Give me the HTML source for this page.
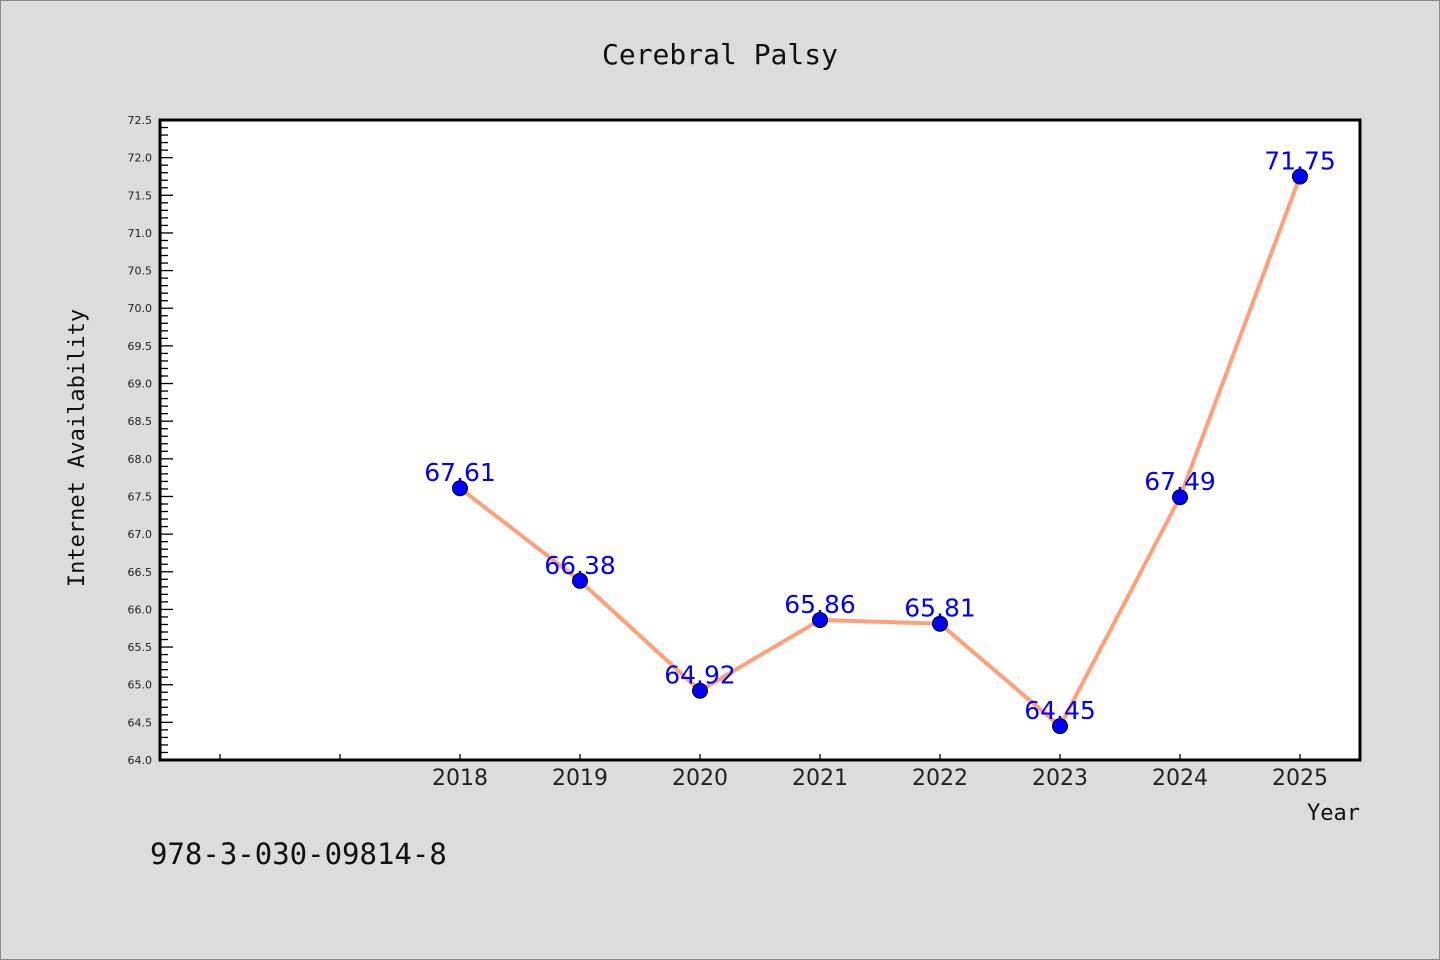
<!DOCTYPE html>
<html><head><meta charset="utf-8"><style>
html,body{margin:0;padding:0;background:#dcdcdc;}
svg{display:block;}
</style></head><body>
<svg id="chart" width="1440" height="960" xmlns="http://www.w3.org/2000/svg">
<rect x="0.5" y="0.5" width="1439" height="959" fill="#dcdcdc" stroke="#888"/>
<text x="720" y="64" text-anchor="middle" font-family="DejaVu Sans Mono, Liberation Mono, monospace" font-size="28" fill="#111">Cerebral Palsy</text>
<rect x="160" y="120" width="1200" height="640" fill="#fff" stroke="#000" stroke-width="3"/>
<g id="yaxis"></g>
<g id="xaxis"></g>
<g id="series"></g>
<text x="0" y="0" transform="translate(84,448) rotate(-90)" text-anchor="middle" font-family="DejaVu Sans Mono, Liberation Mono, monospace" font-size="22" fill="#111">Internet Availability</text>
<text x="1360" y="820" text-anchor="end" font-family="DejaVu Sans Mono, Liberation Mono, monospace" font-size="22" fill="#111">Year</text>
<text x="150" y="864" font-family="DejaVu Sans Mono, Liberation Mono, monospace" font-size="29" fill="#111">978-3-030-09814-8</text>
</svg>
<script>
const years = [2018, 2019, 2020, 2021, 2022, 2023, 2024, 2025];
const values = [67.61, 66.38, 64.92, 65.86, 65.81, 64.45, 67.49, 71.75];
const valueLabels = ["67.61", "66.38", "64.92", "65.86", "65.81", "64.45", "67.49", "71.75"];
const xTicks = [2016, 2017, 2018, 2019, 2020, 2021, 2022, 2023, 2024, 2025];
const xTickLabels = ["", "", "2018", "2019", "2020", "2021", "2022", "2023", "2024", "2025"];
const yMin = 64.0, yMax = 72.5, xMin = 2015.5, xMax = 2025.5;

const NS = "http://www.w3.org/2000/svg";
const L = 160, R = 1360, T = 120, B = 760;
function xs(v){ return L + (v - xMin) / (xMax - xMin) * (R - L); }
function ys(v){ return B - (v - yMin) / (yMax - yMin) * (B - T); }
function mk(tag, attrs, parent){
  const e = document.createElementNS(NS, tag);
  for (const k in attrs) e.setAttribute(k, attrs[k]);
  parent.appendChild(e); return e;
}
const yg = document.getElementById('yaxis');
for (let i = 0; i <= 85; i++) {
  const v = yMin + i * 0.1;
  const y = ys(v);
  const major = i % 5 === 0;
  const t = mk('line', {x1: L, x2: L + (major ? 13 : 8), y1: y, y2: y, stroke: '#000', 'stroke-width': 1.3}, yg);
  
  
  if (major) {
    const tx = mk('text', {x: L - 8, y: y + 4, 'text-anchor': 'end', 'font-family': 'DejaVu Sans, Liberation Sans, sans-serif', 'font-size': 11, fill: '#222'}, yg);
    tx.textContent = v.toFixed(1);
    
    
  }
}
const xg = document.getElementById('xaxis');
xTicks.forEach((v, i) => {
  const x = xs(v);
  const t = mk('line', {x1: x, x2: x, y1: B, y2: B - 6, stroke: '#000', 'stroke-width': 1.3}, xg);
  
  
  if (xTickLabels[i]) {
    const tx = mk('text', {x: x, y: B + 25, 'text-anchor': 'middle', 'font-family': 'DejaVu Sans, Liberation Sans, sans-serif', 'font-size': 22, fill: '#222'}, xg);
    tx.textContent = xTickLabels[i];
    
    
  }
});
const sg = document.getElementById('series');
const pts = years.map((yr, i) => xs(yr) + ',' + ys(values[i])).join(' ');
const pl = mk('polyline', {points: pts, fill: 'none', stroke: '#ffa07a', 'stroke-width': 4, 'stroke-linejoin': 'round'}, sg);


years.forEach((yr, i) => {
  const c = mk('circle', {cx: xs(yr), cy: ys(values[i]), r: 7.5, fill: '#0000ff', stroke: '#000', 'stroke-width': 1}, sg);
  
  
  const tx = mk('text', {x: xs(yr), y: ys(values[i]) - 7, 'text-anchor': 'middle', 'font-family': 'DejaVu Sans, Liberation Sans, sans-serif', 'font-size': 25, fill: '#0000ff'}, sg);
  tx.textContent = valueLabels[i];
  
  
});
</script>
</body></html>
